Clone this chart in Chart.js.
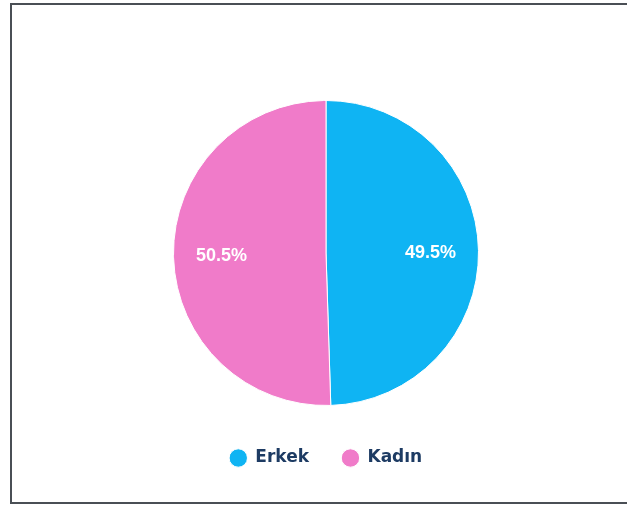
<!DOCTYPE html>
<html>
<head>
<meta charset="utf-8">
<script src="https://cdn.jsdelivr.net/npm/chart.js@4/dist/chart.umd.min.js"></script>
<style>
  html, body { margin: 0; padding: 0; background: #ffffff; overflow: hidden; }
  #frame { position: absolute; left: 10px; top: 3px; width: 700px; height: 497px; border: 2px solid #4a4f55; border-right: none; }
  #wrap { position: absolute; left: 0; top: 0; width: 627px; height: 506px; }
</style>
</head>
<body>
<div id="frame"></div>
<div id="wrap"><canvas id="c" width="627" height="506"></canvas></div>
<script>
const categories = ["Erkek", "Kadın"];
const values = [49.5, 50.5];
const valueLabels = ["49.5%", "50.5%"];
const colors = ["#0fb4f3", "#f07bc9"];

const sliceLabels = {
  id: "sliceLabels",
  afterDatasetsDraw(chart) {
    const ctx = chart.ctx;
    const meta = chart.getDatasetMeta(0);
    ctx.save();
    ctx.font = "bold 18px 'Liberation Sans', Arial, sans-serif";
    ctx.fillStyle = "#ffffff";
    ctx.textAlign = "center";
    ctx.textBaseline = "middle";
    meta.data.forEach((arc, i) => {
      const p = arc.getProps(["x", "y", "startAngle", "endAngle", "outerRadius"], true);
      const mid = (p.startAngle + p.endAngle) / 2;
      const r = p.outerRadius * 0.686;
      ctx.fillText(valueLabels[i], p.x + Math.cos(mid) * r, p.y + Math.sin(mid) * r + 1.5);
    });
    ctx.restore();
  }
};

new Chart(document.getElementById("c"), {
  type: "pie",
  data: {
    labels: categories,
    datasets: [{
      data: values,
      backgroundColor: colors,
      borderColor: "#ffffff",
      borderWidth: 1
    }]
  },
  options: {
    responsive: false,
    animation: false,
    layout: { padding: { left: 173, right: 148, top: 89.5, bottom: 29.5 } },
    plugins: {
      tooltip: { enabled: false },
      legend: {
        position: "bottom",
        maxHeight: 60,
        labels: {
          usePointStyle: true,
          pointStyle: "circle",
          boxWidth: 18,
          boxHeight: 13,
          padding: 33,
          color: "#1d3b63",
          font: { family: "'DejaVu Sans', Verdana, sans-serif", size: 17, weight: "bold" }
        }
      }
    }
  },
  plugins: [sliceLabels]
});
</script>
</body>
</html>
